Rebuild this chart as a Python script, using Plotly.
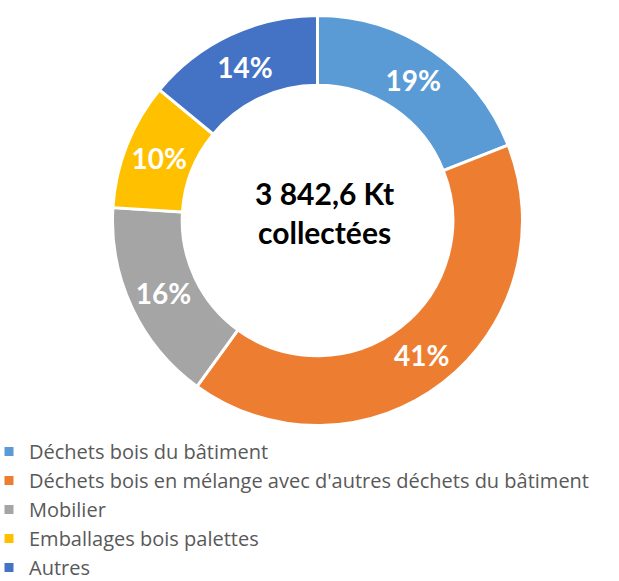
import plotly.graph_objects as go

categories = [
    "Déchets bois du bâtiment",
    "Déchets bois en mélange avec d'autres déchets du bâtiment",
    "Mobilier",
    "Emballages bois palettes",
    "Autres",
]
shares = [19, 41, 16, 10, 14]
colors = ["#5B9BD5", "#ED7D31", "#A5A5A5", "#FFC000", "#4472C4"]
center_lines = ["3 842,6 Kt", "collectées"]

W, H = 619, 581
cx, cy, r = 317.5, 220.5, 205

fig = go.Figure(go.Pie(
    labels=categories,
    values=shares,
    sort=False,
    direction="clockwise",
    rotation=0,
    hole=0.66,
    marker=dict(colors=colors, line=dict(color="white", width=3)),
    texttemplate="%{value}%",
    textposition="inside",
    insidetextorientation="horizontal",
    textfont=dict(family="Lato, sans-serif", size=28, color="white", weight="bold"),
    domain=dict(x=[(cx - r) / W, (cx + r) / W], y=[1 - (cy + r) / H, 1 - (cy - r) / H]),
    hoverinfo="label+percent",
))

fig.add_annotation(
    x=324 / W, y=1 - 212 / H, xref="paper", yref="paper",
    text="<b>" + center_lines[0] + "</b><br><b>" + center_lines[1] + "</b>",
    showarrow=False,
    font=dict(family="Lato, sans-serif", size=30, color="black"),
    align="center",
)

fig.update_layout(
    width=W, height=H,
    margin=dict(l=0, r=0, t=0, b=0, autoexpand=False),
    paper_bgcolor="white",
    plot_bgcolor="white",
    showlegend=True,
    legend=dict(
        x=-11 / W, y=1 - 432 / H, xanchor="left", yanchor="top",
        font=dict(family="Open Sans, sans-serif", size=20, color="#595959"),
        itemwidth=30,
        tracegroupgap=0,
        bgcolor="rgba(0,0,0,0)",
    ),
)

fig.write_html(
    "out.html",
    config={"displayModeBar": False},
    post_script="document.body.style.margin='0';document.body.style.overflow='hidden';",
)
